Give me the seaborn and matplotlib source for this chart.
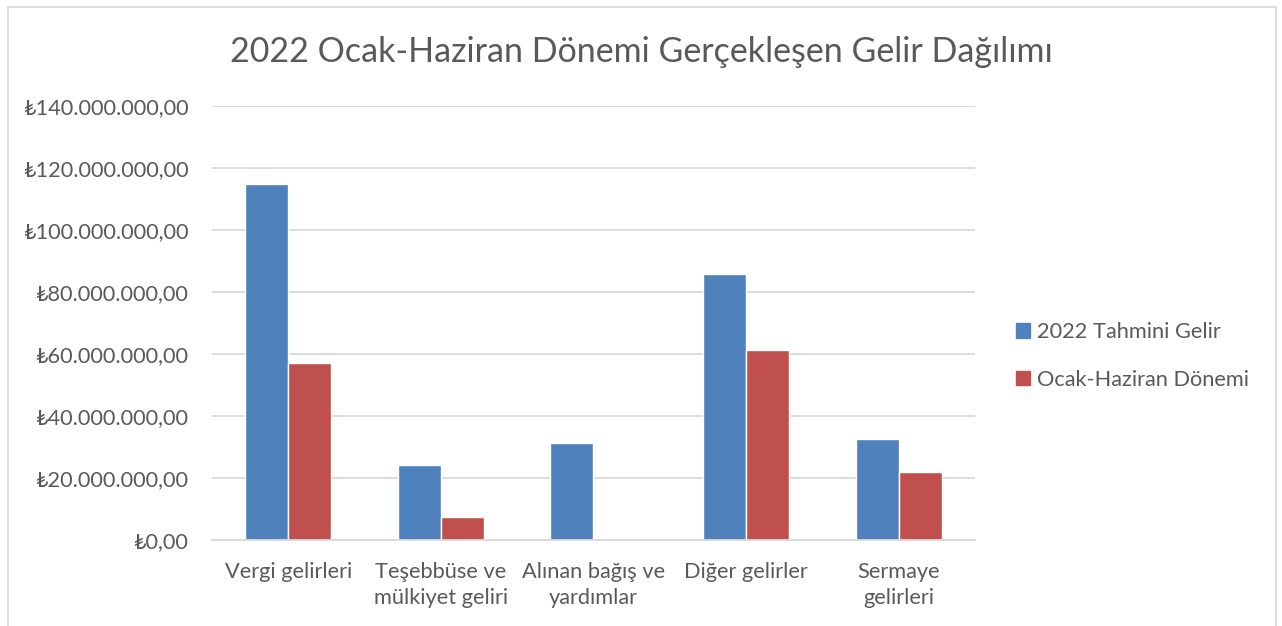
import matplotlib
matplotlib.use("Agg")
import matplotlib.pyplot as plt
import matplotlib.ticker as mticker
import matplotlib.patches as mpatches
import pandas as pd
import seaborn as sns

categories = ["Vergi gelirleri", "Teşebbüse ve\nmülkiyet geliri", "Alınan bağış ve\nyardımlar",
              "Diğer gelirler", "Sermaye\ngelirleri"]
series = ["2022 Tahmini Gelir", "Ocak-Haziran Dönemi"]
tahmini = [114_800_000, 24_200_000, 31_300_000, 85_800_000, 32_600_000]
gerceklesen = [57_200_000, 7_400_000, 0, 61_400_000, 21_900_000]
yticks = [0, 20_000_000, 40_000_000, 60_000_000, 80_000_000, 100_000_000, 120_000_000, 140_000_000]

COLORS = ["#4F81BD", "#C0504D"]
TEXT = "#595959"
GRID = "#D9D9D9"
FS = 15.7

df = pd.DataFrame({
    "kategori": categories * 2,
    "seri": [series[0]] * len(categories) + [series[1]] * len(categories),
    "deger": tahmini + gerceklesen,
})

sns.set_theme(style="white")
plt.rcParams["font.family"] = ["Lato", "DejaVu Sans"]

fig = plt.figure(figsize=(12.82, 6.26), dpi=100)
ax = fig.add_axes([212 / 1282, 1 - 540 / 626, (975 - 212) / 1282, (540 - 106) / 626])

sns.barplot(data=df, x="kategori", y="deger", hue="seri", palette=COLORS,
            width=0.564, saturation=1, ax=ax, legend=False)

ax.set_ylim(0, 140_000_000)
ax.set_xlim(-0.5, len(categories) - 0.5)
ax.set_yticks(yticks)


def tl(v, pos):
    s = f"{v:,.2f}".replace(",", "X").replace(".", ",").replace("X", ".")
    return "₺" + s


ax.yaxis.set_major_formatter(mticker.FuncFormatter(tl))
ax.grid(axis="y", color=GRID, linewidth=1.3)
ax.set_axisbelow(True)
for sp in ["top", "right", "left"]:
    ax.spines[sp].set_visible(False)
ax.spines["bottom"].set_color(GRID)
ax.spines["bottom"].set_linewidth(1.3)
ax.tick_params(axis="both", length=0, colors=TEXT, labelsize=FS)
ax.tick_params(axis="y", pad=17)
ax.tick_params(axis="x", pad=16)
ax.set_xlabel("")
ax.set_ylabel("")
for lab in ax.get_xticklabels():
    lab.set_linespacing(1.35)
    lab.set_verticalalignment("top")

fig.text(0.5, 1 - 52 / 626, "2022 Ocak-Haziran Dönemi Gerçekleşen Gelir Dağılımı",
         ha="center", va="center", fontsize=24.5, color=TEXT)

handles = [mpatches.Patch(color=c, label=s) for c, s in zip(COLORS, series)]
fig.legend(handles=handles, loc="center left", bbox_to_anchor=(996 / 1282, 1 - 356 / 626),
           frameon=False, fontsize=FS, labelcolor=TEXT, handlelength=0.65,
           handleheight=0.65, handletextpad=0.35, labelspacing=1.25)

border = mpatches.Rectangle((8 / 1282, -0.05), 1268 / 1282, 1.05 - 7 / 626, transform=fig.transFigure,
                            fill=False, edgecolor="#D9D9D9", linewidth=1.3)
fig.patches.append(border)

fig.savefig("out.png", dpi=100)
